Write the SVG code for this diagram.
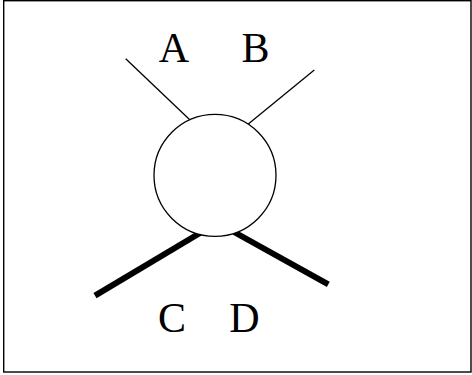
<svg xmlns="http://www.w3.org/2000/svg" width="472" height="375" viewBox="0 0 472 375">
<style>
.lbl{font-family:"Liberation Serif","Times New Roman",serif;font-size:42px;fill:#000;text-anchor:middle}
.thin{stroke:#000;stroke-width:1.3;fill:none}
.thick{stroke:#000;stroke-width:6;fill:none}
</style>
<rect x="0" y="0" width="472" height="375" fill="#fff"/>
<rect x="3.7" y="0.7" width="467.3" height="371.3" fill="none" stroke="#000" stroke-width="1.4"/>
<g id="connectors">
<line class="thin" x1="125.7" y1="58.7" x2="189.5" y2="119.5"/>
<line class="thin" x1="314.3" y1="70" x2="248.3" y2="124"/>
<line class="thick" x1="95" y1="295.7" x2="200" y2="233"/>
<line class="thick" x1="234" y1="232" x2="328.3" y2="284.3"/>
</g>
<g id="node">
<circle cx="215" cy="175.3" r="61" fill="#fff" stroke="#000" stroke-width="1.3"/>
</g>
<g id="labels">
<text class="lbl" x="174" y="62">A</text>
<text class="lbl" x="255.5" y="62">B</text>
<text class="lbl" x="172" y="332">C</text>
<text class="lbl" x="244.5" y="332">D</text>
</g>
</svg>
